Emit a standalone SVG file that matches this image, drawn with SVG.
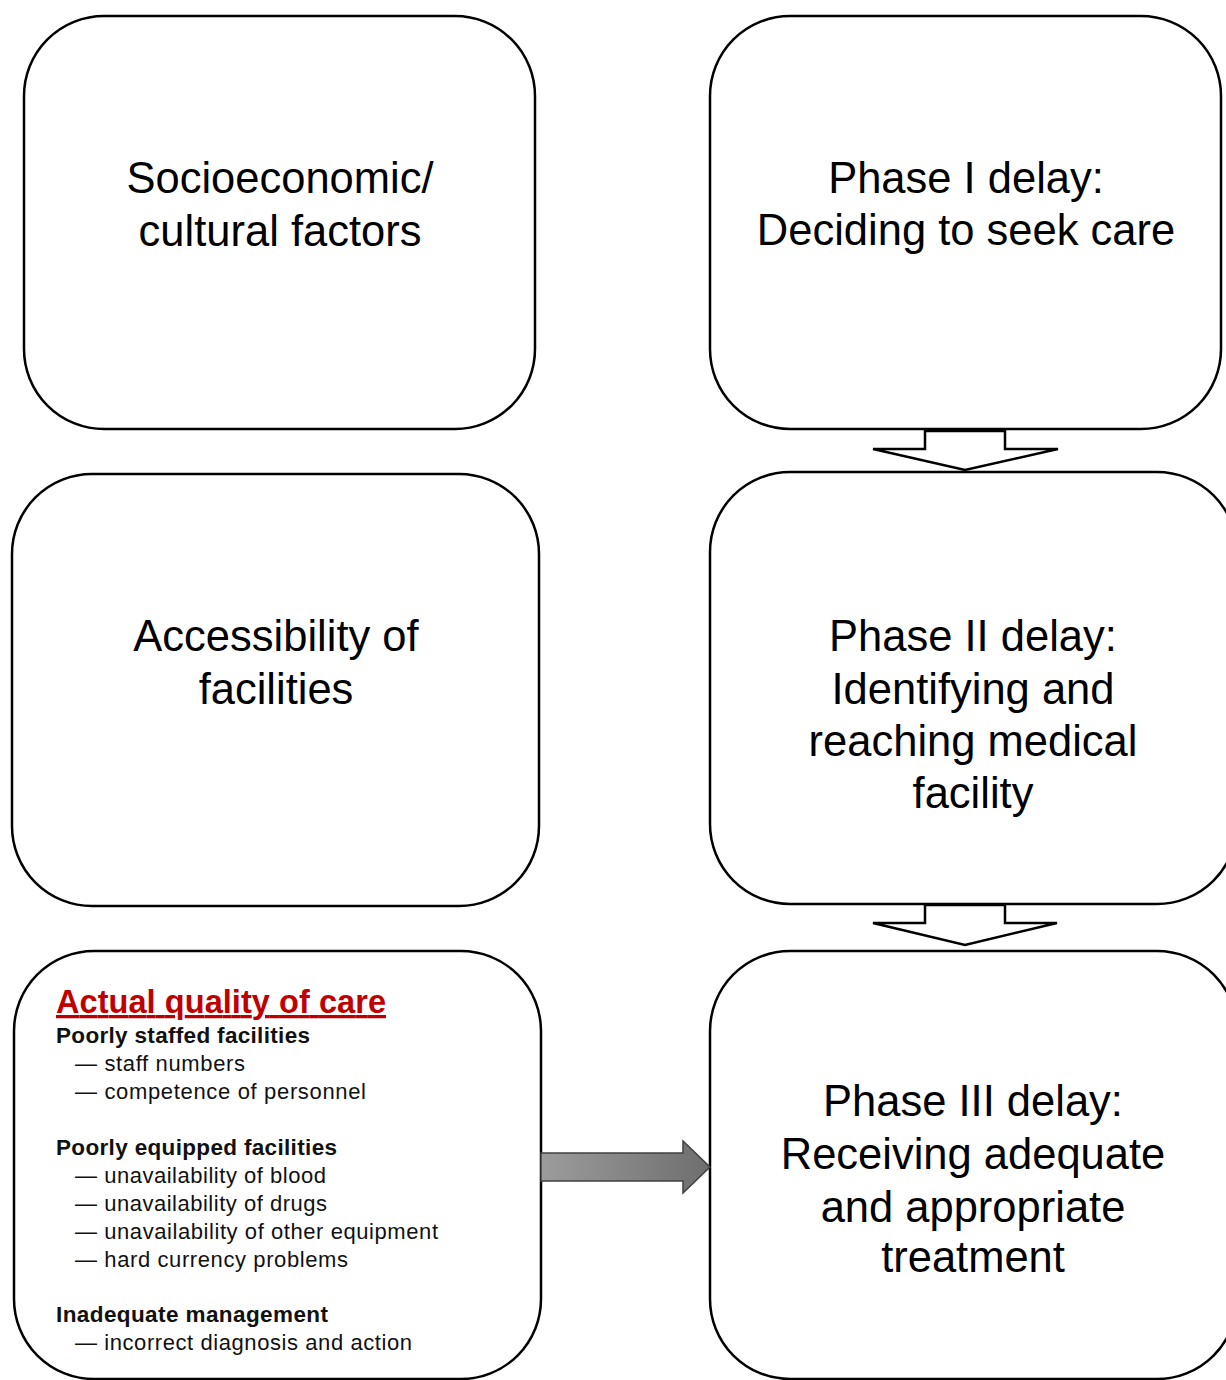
<svg xmlns="http://www.w3.org/2000/svg" width="1226" height="1380" viewBox="0 0 1226 1380">
  <style>
    .box { fill: #ffffff; stroke: #000000; stroke-width: 2.5; }
    .big { font-family: "Liberation Sans", Arial, sans-serif; font-size: 43.5px; fill: #000000; text-anchor: middle; }
    .title { font-family: "Liberation Sans", Arial, sans-serif; font-size: 32.5px; font-weight: bold; fill: #C00000; text-decoration: underline; }
    .head { font-family: "Liberation Sans", Arial, sans-serif; font-size: 22.5px; font-weight: bold; fill: #111111; }
    .item { font-family: "Liberation Sans", Arial, sans-serif; font-size: 22px; fill: #111111; }
    .hollow { fill: #ffffff; stroke: #000000; stroke-width: 2.5; stroke-linejoin: miter; }
    .solid { fill: url(#grayGrad); stroke: #404040; stroke-width: 1.5; }
  </style>
  <defs>
    <linearGradient id="grayGrad" x1="0" y1="0" x2="1" y2="0">
      <stop offset="0" stop-color="#9c9c9c"/>
      <stop offset="1" stop-color="#6e6e6e"/>
    </linearGradient>
  </defs>
  <rect width="1226" height="1380" fill="#ffffff"/>

  <g id="node-socioeconomic">
    <rect class="box" x="24" y="16" width="511" height="413" rx="80" ry="80"/>
    <text class="big" x="280" y="193">Socioeconomic/</text>
    <text class="big" x="280" y="246">cultural factors</text>
  </g>

  <g id="node-phase1">
    <rect class="box" x="710" y="16" width="511" height="413" rx="80" ry="80"/>
    <text class="big" x="966" y="193">Phase I delay:</text>
    <text class="big" x="966" y="245">Deciding to seek care</text>
  </g>

  <g id="node-accessibility">
    <rect class="box" x="12" y="474" width="527" height="432" rx="80" ry="80"/>
    <text class="big" x="276" y="651">Accessibility of</text>
    <text class="big" x="276" y="704">facilities</text>
  </g>

  <g id="node-phase2">
    <rect class="box" x="710" y="472" width="527" height="432" rx="80" ry="80"/>
    <text class="big" x="973" y="651">Phase II delay:</text>
    <text class="big" x="973" y="704">Identifying and</text>
    <text class="big" x="973" y="756">reaching medical</text>
    <text class="big" x="973" y="808">facility</text>
  </g>

  <g id="node-quality">
    <rect class="box" x="14" y="951" width="527" height="428" rx="80" ry="80"/>
    <text class="title" x="56" y="1013" textLength="330" lengthAdjust="spacing">Actual quality of care</text>
    <text class="head" x="56" y="1043" textLength="254" lengthAdjust="spacing">Poorly staffed facilities</text>
    <text class="item" x="75" y="1071" textLength="170" lengthAdjust="spacing">— staff numbers</text>
    <text class="item" x="75" y="1099" textLength="291" lengthAdjust="spacing">— competence of personnel</text>
    <text class="head" x="56" y="1155" textLength="281" lengthAdjust="spacing">Poorly equipped facilities</text>
    <text class="item" x="75" y="1183" textLength="251" lengthAdjust="spacing">— unavailability of blood</text>
    <text class="item" x="75" y="1211" textLength="252" lengthAdjust="spacing">— unavailability of drugs</text>
    <text class="item" x="75" y="1239" textLength="363" lengthAdjust="spacing">— unavailability of other equipment</text>
    <text class="item" x="75" y="1267" textLength="273" lengthAdjust="spacing">— hard currency problems</text>
    <text class="head" x="56" y="1322" textLength="272" lengthAdjust="spacing">Inadequate management</text>
    <text class="item" x="75" y="1350" textLength="337" lengthAdjust="spacing">— incorrect diagnosis and action</text>
  </g>

  <g id="node-phase3">
    <rect class="box" x="710" y="951" width="527" height="428" rx="80" ry="80"/>
    <text class="big" x="973" y="1116">Phase III delay:</text>
    <text class="big" x="973" y="1169">Receiving adequate</text>
    <text class="big" x="973" y="1222">and appropriate</text>
    <text class="big" x="973" y="1272">treatment</text>
  </g>

  <g id="connectors">
    <polygon class="hollow" points="925,431 1005,431 1005,449 1058,449 965,470 873,449 925,449"/>
    <polygon class="hollow" points="925,905 1005,905 1005,923 1057,923 965,945 873,923 925,923"/>
    <polygon class="solid" points="541,1153 683,1153 683,1141 710,1167 683,1193 683,1181 541,1181"/>
  </g>
</svg>
